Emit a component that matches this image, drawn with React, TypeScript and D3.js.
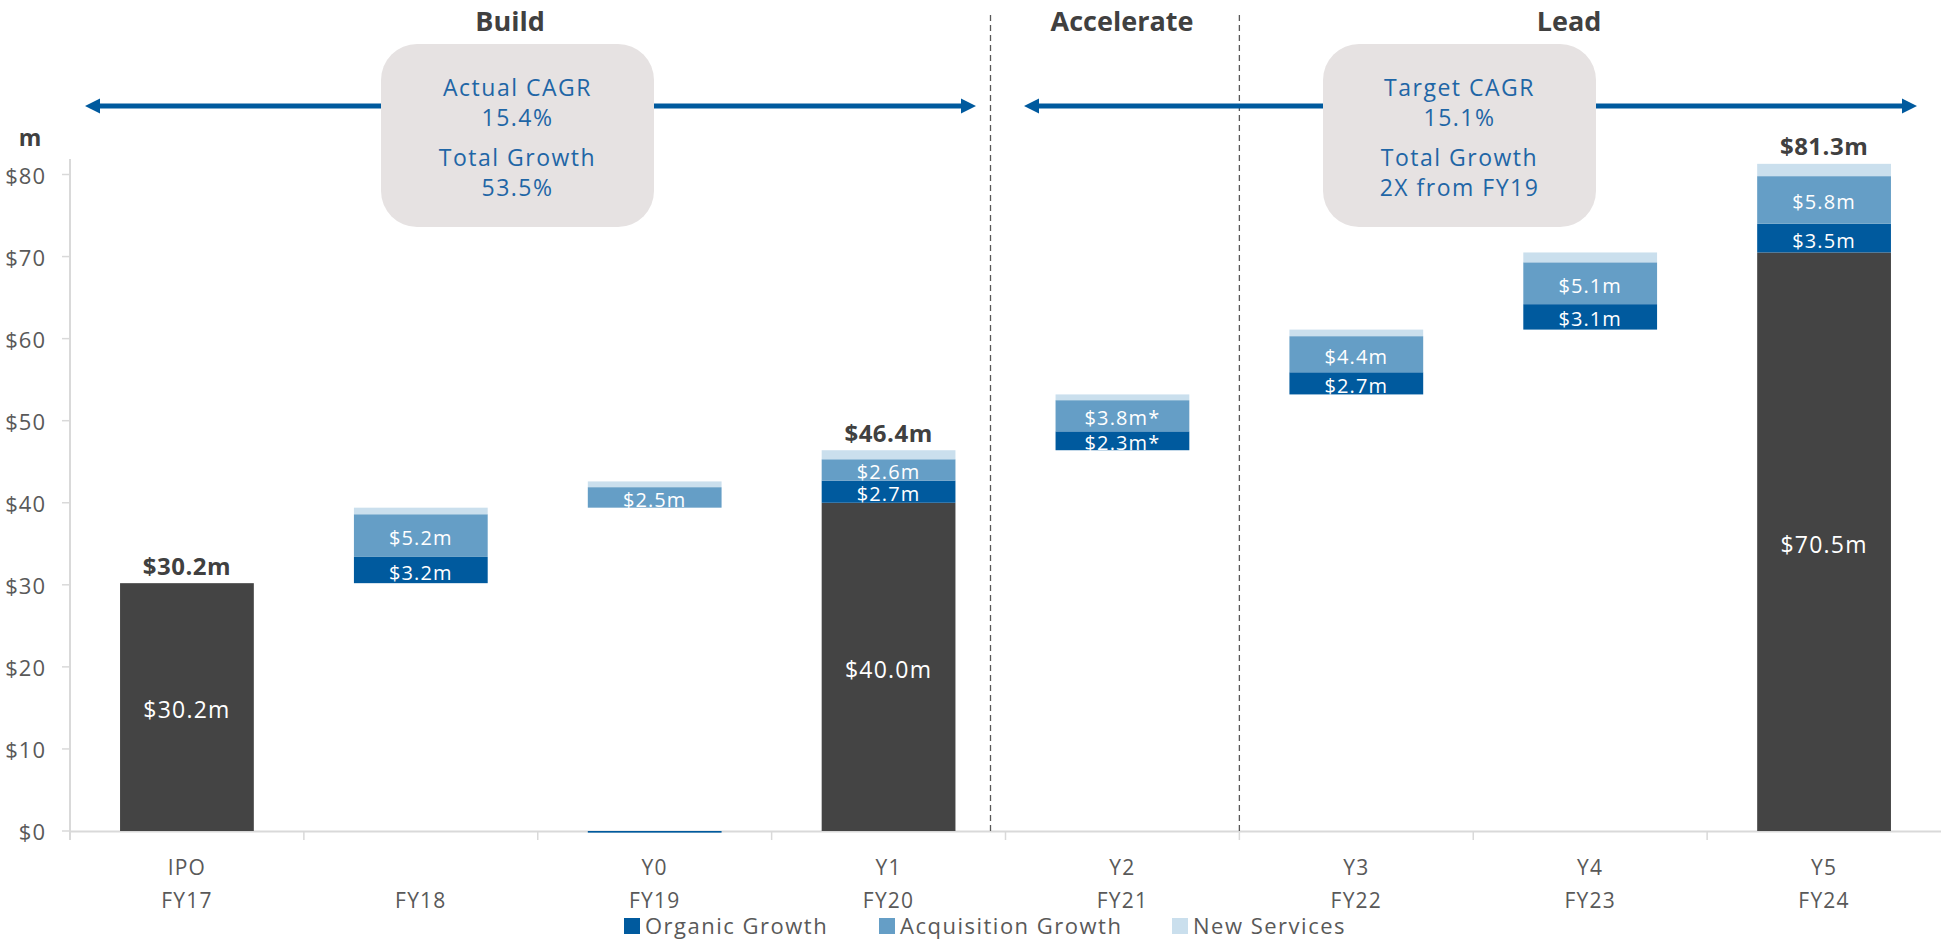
import React from "react";
import * as d3 from "d3";

const categories = ["FY17", "FY18", "FY19", "FY20", "FY21", "FY22", "FY23", "FY24"];
const yearLabels = ["IPO", "", "Y0", "Y1", "Y2", "Y3", "Y4", "Y5"];
const baseVisible = [30.2, 0, 0, 40.0, 0, 0, 0, 70.5];
const baseHidden = [0, 30.2, 39.4, 0, 46.4, 53.2, 61.1, 0];
const organic = [0, 3.2, -0.2, 2.7, 2.3, 2.7, 3.1, 3.5];
const acquisition = [0, 5.2, 2.5, 2.6, 3.8, 4.4, 5.1, 5.8];
const newServices = [0, 0.8, 0.7, 1.1, 0.7, 0.8, 1.2, 1.5];
const baseLabels = ["$30.2m", "", "", "$40.0m", "", "", "", "$70.5m"];
const organicLabels = ["", "$3.2m", "", "$2.7m", "$2.3m*", "$2.7m", "$3.1m", "$3.5m"];
const acquisitionLabels = ["", "$5.2m", "$2.5m", "$2.6m", "$3.8m*", "$4.4m", "$5.1m", "$5.8m"];
const totalLabels = ["$30.2m", "", "", "$46.4m", "", "", "", "$81.3m"];
const yTicks = [0, 10, 20, 30, 40, 50, 60, 70, 80];
const seriesNames = ["Organic Growth", "Acquisition Growth", "New Services"];
const phaseTitles = ["Build", "Accelerate", "Lead"];
const box1Lines = ["Actual CAGR", "15.4%", "Total Growth", "53.5%"];
const box2Lines = ["Target CAGR", "15.1%", "Total Growth", "2X from FY19"];

const C_ORG = "#005a9e";
const C_ACQ = "#659ec6";
const C_NEW = "#cadfed";
const C_DARK = "#444444";
const C_BOX = "#e6e2e2";
const C_BLUE = "#1f66a6";
const FONT = "'Open Sans', 'Noto Sans', sans-serif";

export default function App() {
  const W = 1941, H = 939;
  const x = d3.scaleBand<string>().domain(categories).range([70, 1941]).padding(0);
  const y = d3.scaleLinear().domain([0, 80]).range([831, 174.5]);
  const bw = x.bandwidth();
  const barW = bw * 0.572;
  const bx = (c: string) => (x(c) as number) + (bw - barW) / 2;
  const cx = (c: string) => (x(c) as number) + bw / 2;

  const segs: any[] = [];
  categories.forEach((c, i) => {
    if (baseVisible[i] > 0) {
      segs.push({ c, y0: 0, y1: baseVisible[i], color: C_DARK, label: baseLabels[i], key: "b" + i, big: true });
    }
    let start = baseVisible[i] + baseHidden[i];
    if (organic[i] >= 0) {
      segs.push({ c, y0: start, y1: start + organic[i], color: C_ORG, label: organicLabels[i], key: "o" + i });
      start += organic[i];
    } else {
      segs.push({ c, y0: organic[i], y1: 0, color: C_ORG, label: "", key: "o" + i });
    }
    segs.push({ c, y0: start, y1: start + acquisition[i], color: C_ACQ, label: acquisitionLabels[i], key: "a" + i });
    start += acquisition[i];
    segs.push({ c, y0: start, y1: start + newServices[i], color: C_NEW, label: "", key: "n" + i });
  });

  const totals = categories.map((c, i) => ({
    c,
    v: baseVisible[i] + baseHidden[i] + Math.max(0, organic[i]) + acquisition[i] + newServices[i],
    label: totalLabels[i],
  }));

  const arrow = (x1: number, x2: number, yy: number, key: string) => {
    const hl = 15, hh = 7.5, t = 2.6;
    const d = `M${x1},${yy} L${x1 + hl},${yy - hh} L${x1 + hl},${yy - t} L${x2 - hl},${yy - t} L${x2 - hl},${yy - hh} L${x2},${yy} L${x2 - hl},${yy + hh} L${x2 - hl},${yy + t} L${x1 + hl},${yy + t} L${x1 + hl},${yy + hh} Z`;
    return <path key={key} d={d} fill={C_ORG} />;
  };

  const dashX1 = (x(categories[4]) as number) - 15;
  const dashX2 = x(categories[5]) as number;

  const legendX = [624, 879, 1172];
  const legendColors = [C_ORG, C_ACQ, C_NEW];

  const box = (bx0: number, lines: string[], key: string) => (
    <g key={key}>
      <rect x={bx0} y={44} width={273} height={183} rx={36} ry={36} fill={C_BOX} />
      {lines.map((t, i) => (
        <text key={i} x={bx0 + 136.5} y={[87, 117, 157, 187][i]} textAnchor="middle" dominantBaseline="central"
          fontSize={23} letterSpacing={1.5} fill={C_BLUE} fontFamily={FONT}>{t}</text>
      ))}
    </g>
  );

  return (
    <svg width={W} height={H} style={{ position: "absolute", left: 0, top: 0, display: "block", background: "#fff" }} fontFamily={FONT}>
      <line x1={70} x2={70} y1={159} y2={840} stroke="#d9d9d9" strokeWidth={2} />
      <line x1={70} x2={1941} y1={831.5} y2={831.5} stroke="#d9d9d9" strokeWidth={2} />
      {yTicks.map((t) => (
        <g key={t}>
          <line x1={62} x2={70} y1={y(t)} y2={y(t)} stroke="#d9d9d9" strokeWidth={1.5} />
          <text x={46} y={y(t)} textAnchor="end" dominantBaseline="central" fontSize={22} letterSpacing={1} fill="#595959">{"$" + t}</text>
        </g>
      ))}
      {categories.map((c, i) => (
        <g key={c}>
          <line x1={x(c) as number} x2={x(c) as number} y1={831} y2={840} stroke="#d9d9d9" strokeWidth={1.5} />
          <text x={cx(c)} y={867} textAnchor="middle" dominantBaseline="central" fontSize={21} letterSpacing={1.2} fill="#595959">{yearLabels[i]}</text>
          <text x={cx(c)} y={900} textAnchor="middle" dominantBaseline="central" fontSize={21} letterSpacing={1.2} fill="#595959">{c}</text>
        </g>
      ))}
      <text x={30} y={137} textAnchor="middle" dominantBaseline="central" fontSize={23} fontWeight="bold" fill="#404040">m</text>

      <line x1={dashX1} x2={dashX1} y1={15} y2={831} stroke="#595959" strokeWidth={1.3} strokeDasharray="6,4" />
      <line x1={dashX2} x2={dashX2} y1={15} y2={831} stroke="#595959" strokeWidth={1.3} strokeDasharray="6,4" />

      {segs.map((s) => (
        <g key={s.key}>
          <rect x={bx(s.c)} y={y(s.y1)} width={barW} height={Math.max(0, y(s.y0) - y(s.y1))} fill={s.color} />
          {s.label ? (
            <text x={cx(s.c)} y={(y(s.y0) + y(s.y1)) / 2 + 2} textAnchor="middle" dominantBaseline="central"
              fontSize={s.big ? 23 : 20} letterSpacing={s.big ? 1.2 : 1.1} fill="#ffffff">{s.label}</text>
          ) : null}
        </g>
      ))}
      {totals.map((t) => t.label ? (
        <text key={t.c} x={cx(t.c)} y={y(t.v) - 18} textAnchor="middle" dominantBaseline="central" fontSize={24} fontWeight="bold" letterSpacing={0.5} fill="#404040">{t.label}</text>
      ) : null)}

      {arrow(85, 976, 106, "a1")}
      {arrow(1024, 1917, 106, "a2")}
      {box(381, box1Lines, "b1")}
      {box(1323, box2Lines, "b2")}
      {phaseTitles.map((t, i) => (
        <text key={t} x={[510, 1122, 1569][i]} y={20} textAnchor="middle" dominantBaseline="central" fontSize={27} fontWeight="bold" fill="#404040">{t}</text>
      ))}

      {seriesNames.map((n, i) => (
        <g key={n}>
          <rect x={legendX[i]} y={918} width={16} height={16} fill={legendColors[i]} />
          <text x={legendX[i] + 21} y={925} dominantBaseline="central" fontSize={22} letterSpacing={1.5} fill="#595959">{n}</text>
        </g>
      ))}
    </svg>
  );
}
